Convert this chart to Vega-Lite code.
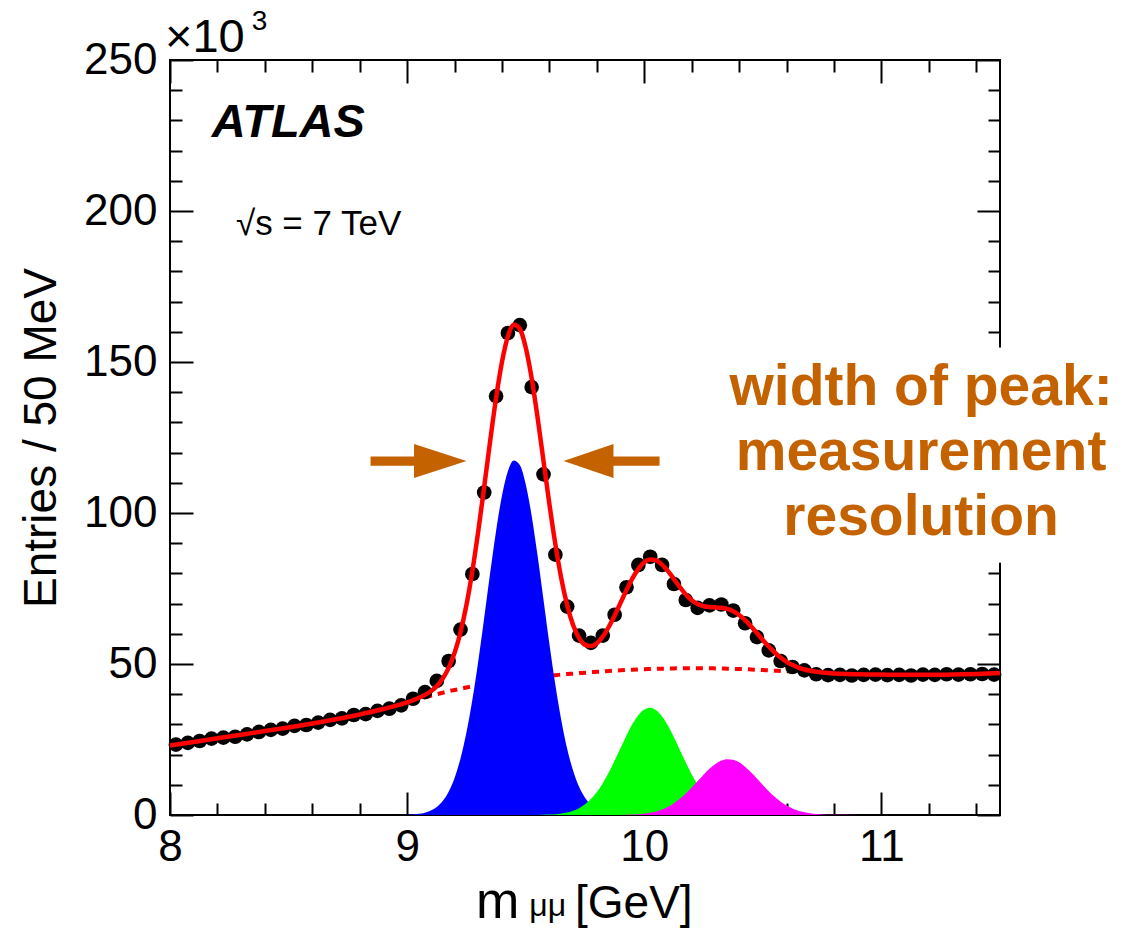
{
  "$schema": "https://vega.github.io/schema/vega-lite/v6.json",
  "width": 830,
  "height": 755,
  "autosize": {"type": "none"},
  "padding": {"left": 170, "top": 60, "right": 123, "bottom": 117},
  "background": "white",
  "config": {
    "font": "Liberation Sans",
    "view": {"stroke": "black", "strokeWidth": 2},
    "axis": {
      "domain": false, "grid": false, "labelFlush": false,
      "labelFont": "Liberation Sans", "labelFontSize": 44, "labelColor": "black",
      "tickColor": "black", "tickWidth": 2, "zindex": 1,
      "titleFont": "Liberation Sans", "titleFontSize": 46, "titleFontWeight": "normal", "titleColor": "black"
    }
  },
  "datasets": {
    "curves": [
      {"x": 8.0, "bg": 23.0, "b1": 0, "b2": 0, "b3": 0, "fit": 23.0},
      {"x": 8.1, "bg": 24.2, "b1": 0, "b2": 0, "b3": 0, "fit": 24.2},
      {"x": 8.2, "bg": 25.4, "b1": 0, "b2": 0, "b3": 0, "fit": 25.4},
      {"x": 8.3, "bg": 26.6, "b1": 0, "b2": 0, "b3": 0, "fit": 26.6},
      {"x": 8.4, "bg": 27.8, "b1": 0, "b2": 0, "b3": 0, "fit": 27.8},
      {"x": 8.5, "bg": 29.0, "b1": 0, "b2": 0, "b3": 0, "fit": 29.0},
      {"x": 8.6, "bg": 30.3, "b1": 0, "b2": 0, "b3": 0, "fit": 30.3},
      {"x": 8.7, "bg": 31.7, "b1": 0, "b2": 0, "b3": 0, "fit": 31.7},
      {"x": 8.8, "bg": 33.3, "b1": 0, "b2": 0, "b3": 0, "fit": 33.3},
      {"x": 8.9, "bg": 35.1, "b1": 0, "b2": 0, "b3": 0, "fit": 35.1},
      {"x": 9.0, "bg": 37.2, "b1": 0.09, "b2": 0, "b3": 0, "fit": 37.29},
      {"x": 9.025, "bg": 37.8, "b1": 0.19, "b2": 0, "b3": 0, "fit": 37.99},
      {"x": 9.05, "bg": 38.4, "b1": 0.4, "b2": 0, "b3": 0, "fit": 38.8},
      {"x": 9.075, "bg": 39.0, "b1": 0.78, "b2": 0, "b3": 0, "fit": 39.78},
      {"x": 9.1, "bg": 39.5, "b1": 1.48, "b2": 0, "b3": 0, "fit": 40.98},
      {"x": 9.125, "bg": 40.0, "b1": 2.68, "b2": 0, "b3": 0, "fit": 42.68},
      {"x": 9.15, "bg": 40.5, "b1": 4.65, "b2": 0, "b3": 0, "fit": 45.15},
      {"x": 9.175, "bg": 41.0, "b1": 7.72, "b2": 0, "b3": 0, "fit": 48.72},
      {"x": 9.2, "bg": 41.4, "b1": 12.29, "b2": 0, "b3": 0, "fit": 53.69},
      {"x": 9.225, "bg": 41.8, "b1": 18.72, "b2": 0, "b3": 0, "fit": 60.52},
      {"x": 9.25, "bg": 42.2, "b1": 27.32, "b2": 0, "b3": 0, "fit": 69.52},
      {"x": 9.275, "bg": 42.6, "b1": 38.15, "b2": 0, "b3": 0, "fit": 80.75},
      {"x": 9.3, "bg": 43.0, "b1": 51.03, "b2": 0, "b3": 0, "fit": 94.03},
      {"x": 9.325, "bg": 43.4, "b1": 65.34, "b2": 0, "b3": 0, "fit": 108.74},
      {"x": 9.35, "bg": 43.7, "b1": 80.11, "b2": 0, "b3": 0, "fit": 123.81},
      {"x": 9.375, "bg": 44.0, "b1": 94.08, "b2": 0, "b3": 0, "fit": 138.08},
      {"x": 9.4, "bg": 44.3, "b1": 105.79, "b2": 0, "b3": 0, "fit": 150.09},
      {"x": 9.425, "bg": 44.6, "b1": 113.88, "b2": 0, "b3": 0, "fit": 158.48},
      {"x": 9.45, "bg": 44.9, "b1": 117.4, "b2": 0, "b3": 0, "fit": 162.3},
      {"x": 9.475, "bg": 45.1, "b1": 115.88, "b2": 0, "b3": 0, "fit": 160.98},
      {"x": 9.5, "bg": 45.3, "b1": 109.52, "b2": 0, "b3": 0, "fit": 154.82},
      {"x": 9.525, "bg": 45.5, "b1": 99.13, "b2": 0, "b3": 0, "fit": 144.63},
      {"x": 9.55, "bg": 45.7, "b1": 85.89, "b2": 0.03, "b3": 0, "fit": 131.62},
      {"x": 9.575, "bg": 45.9, "b1": 71.27, "b2": 0.07, "b3": 0, "fit": 117.24},
      {"x": 9.6, "bg": 46.1, "b1": 56.62, "b2": 0.14, "b3": 0, "fit": 102.86},
      {"x": 9.625, "bg": 46.3, "b1": 43.09, "b2": 0.26, "b3": 0, "fit": 89.65},
      {"x": 9.65, "bg": 46.5, "b1": 31.38, "b2": 0.48, "b3": 0, "fit": 78.36},
      {"x": 9.675, "bg": 46.7, "b1": 21.88, "b2": 0.83, "b3": 0, "fit": 69.41},
      {"x": 9.7, "bg": 46.8, "b1": 14.62, "b2": 1.4, "b3": 0, "fit": 62.82},
      {"x": 9.725, "bg": 47.0, "b1": 9.35, "b2": 2.26, "b3": 0, "fit": 58.61},
      {"x": 9.75, "bg": 47.1, "b1": 5.73, "b2": 3.52, "b3": 0, "fit": 56.35},
      {"x": 9.775, "bg": 47.3, "b1": 3.36, "b2": 5.27, "b3": 0, "fit": 55.93},
      {"x": 9.8, "bg": 47.4, "b1": 1.88, "b2": 7.6, "b3": 0, "fit": 56.88},
      {"x": 9.825, "bg": 47.5, "b1": 1.01, "b2": 10.53, "b3": 0, "fit": 59.04},
      {"x": 9.85, "bg": 47.7, "b1": 0.52, "b2": 14.04, "b3": 0, "fit": 62.26},
      {"x": 9.875, "bg": 47.8, "b1": 0.26, "b2": 18.01, "b3": 0.02, "fit": 66.09},
      {"x": 9.9, "bg": 47.9, "b1": 0.12, "b2": 22.21, "b3": 0.04, "fit": 70.27},
      {"x": 9.925, "bg": 48.0, "b1": 0.05, "b2": 26.35, "b3": 0.07, "fit": 74.47},
      {"x": 9.95, "bg": 48.1, "b1": 0.02, "b2": 30.1, "b3": 0.14, "fit": 78.36},
      {"x": 9.975, "bg": 48.2, "b1": 0.01, "b2": 33.05, "b3": 0.26, "fit": 81.52},
      {"x": 10.0, "bg": 48.3, "b1": 0, "b2": 34.92, "b3": 0.44, "fit": 83.66},
      {"x": 10.025, "bg": 48.35, "b1": 0, "b2": 35.5, "b3": 0.74, "fit": 84.59},
      {"x": 10.05, "bg": 48.4, "b1": 0, "b2": 34.71, "b3": 1.18, "fit": 84.29},
      {"x": 10.075, "bg": 48.45, "b1": 0, "b2": 32.65, "b3": 1.82, "fit": 82.92},
      {"x": 10.1, "bg": 48.5, "b1": 0, "b2": 29.54, "b3": 2.7, "fit": 80.74},
      {"x": 10.125, "bg": 48.55, "b1": 0, "b2": 25.71, "b3": 3.87, "fit": 78.13},
      {"x": 10.15, "bg": 48.6, "b1": 0, "b2": 21.53, "b3": 5.34, "fit": 75.47},
      {"x": 10.175, "bg": 48.6, "b1": 0, "b2": 17.35, "b3": 7.09, "fit": 73.04},
      {"x": 10.2, "bg": 48.6, "b1": 0, "b2": 13.44, "b3": 9.09, "fit": 71.13},
      {"x": 10.225, "bg": 48.6, "b1": 0, "b2": 10.02, "b3": 11.22, "fit": 69.84},
      {"x": 10.25, "bg": 48.6, "b1": 0, "b2": 7.19, "b3": 13.35, "fit": 69.14},
      {"x": 10.275, "bg": 48.6, "b1": 0, "b2": 4.96, "b3": 15.31, "fit": 68.87},
      {"x": 10.3, "bg": 48.55, "b1": 0, "b2": 3.29, "b3": 16.92, "fit": 68.76},
      {"x": 10.325, "bg": 48.5, "b1": 0, "b2": 2.1, "b3": 18.01, "fit": 68.61},
      {"x": 10.35, "bg": 48.45, "b1": 0, "b2": 1.29, "b3": 18.49, "fit": 68.23},
      {"x": 10.375, "bg": 48.4, "b1": 0, "b2": 0.76, "b3": 18.28, "fit": 67.44},
      {"x": 10.4, "bg": 48.35, "b1": 0, "b2": 0.43, "b3": 17.43, "fit": 66.21},
      {"x": 10.425, "bg": 48.3, "b1": 0, "b2": 0.23, "b3": 16.0, "fit": 64.53},
      {"x": 10.45, "bg": 48.2, "b1": 0, "b2": 0.12, "b3": 14.17, "fit": 62.49},
      {"x": 10.475, "bg": 48.1, "b1": 0, "b2": 0.06, "b3": 12.08, "fit": 60.24},
      {"x": 10.5, "bg": 48.0, "b1": 0, "b2": 0.03, "b3": 9.93, "fit": 57.96},
      {"x": 10.525, "bg": 47.9, "b1": 0, "b2": 0, "b3": 7.87, "fit": 55.77},
      {"x": 10.55, "bg": 47.8, "b1": 0, "b2": 0, "b3": 6.01, "fit": 53.81},
      {"x": 10.575, "bg": 47.7, "b1": 0, "b2": 0, "b3": 4.42, "fit": 52.12},
      {"x": 10.6, "bg": 47.6, "b1": 0, "b2": 0, "b3": 3.13, "fit": 50.73},
      {"x": 10.625, "bg": 47.5, "b1": 0, "b2": 0, "b3": 2.14, "fit": 49.64},
      {"x": 10.65, "bg": 47.4, "b1": 0, "b2": 0, "b3": 1.41, "fit": 48.81},
      {"x": 10.675, "bg": 47.3, "b1": 0, "b2": 0, "b3": 0.89, "fit": 48.19},
      {"x": 10.7, "bg": 47.2, "b1": 0, "b2": 0, "b3": 0.55, "fit": 47.75},
      {"x": 10.725, "bg": 47.1, "b1": 0, "b2": 0, "b3": 0.32, "fit": 47.42},
      {"x": 10.75, "bg": 47.0, "b1": 0, "b2": 0, "b3": 0.18, "fit": 47.18},
      {"x": 10.775, "bg": 46.9, "b1": 0, "b2": 0, "b3": 0.1, "fit": 47.0},
      {"x": 10.8, "bg": 46.8, "b1": 0, "b2": 0, "b3": 0.05, "fit": 46.85},
      {"x": 10.9, "bg": 46.6, "b1": 0, "b2": 0, "b3": 0, "fit": 46.6},
      {"x": 11.0, "bg": 46.5, "b1": 0, "b2": 0, "b3": 0, "fit": 46.5},
      {"x": 11.1, "bg": 46.4, "b1": 0, "b2": 0, "b3": 0, "fit": 46.4},
      {"x": 11.2, "bg": 46.4, "b1": 0, "b2": 0, "b3": 0, "fit": 46.4},
      {"x": 11.3, "bg": 46.5, "b1": 0, "b2": 0, "b3": 0, "fit": 46.5},
      {"x": 11.4, "bg": 46.7, "b1": 0, "b2": 0, "b3": 0, "fit": 46.7},
      {"x": 11.5, "bg": 47.0, "b1": 0, "b2": 0, "b3": 0, "fit": 47.0}
    ],
    "points": [
      {"x": 8.025, "y": 23.3}, {"x": 8.075, "y": 23.9}, {"x": 8.125, "y": 24.5}, {"x": 8.175, "y": 25.3},
      {"x": 8.225, "y": 25.6}, {"x": 8.275, "y": 25.9}, {"x": 8.325, "y": 26.7}, {"x": 8.375, "y": 27.5},
      {"x": 8.425, "y": 28.2}, {"x": 8.475, "y": 28.6}, {"x": 8.525, "y": 29.5}, {"x": 8.575, "y": 29.8},
      {"x": 8.625, "y": 30.6}, {"x": 8.675, "y": 31.5}, {"x": 8.725, "y": 32.0}, {"x": 8.775, "y": 33.1},
      {"x": 8.825, "y": 33.4}, {"x": 8.875, "y": 34.5}, {"x": 8.925, "y": 35.2}, {"x": 8.975, "y": 36.3},
      {"x": 9.025, "y": 38.5}, {"x": 9.075, "y": 40.7}, {"x": 9.125, "y": 44.4}, {"x": 9.175, "y": 51.0},
      {"x": 9.225, "y": 61.4}, {"x": 9.275, "y": 79.8}, {"x": 9.325, "y": 106.8}, {"x": 9.375, "y": 138.7},
      {"x": 9.425, "y": 159.6}, {"x": 9.475, "y": 162.2}, {"x": 9.525, "y": 141.7}, {"x": 9.575, "y": 112.8},
      {"x": 9.625, "y": 86.2}, {"x": 9.675, "y": 69.0}, {"x": 9.725, "y": 59.4}, {"x": 9.775, "y": 57.0},
      {"x": 9.825, "y": 59.4}, {"x": 9.875, "y": 66.3}, {"x": 9.925, "y": 75.4}, {"x": 9.975, "y": 82.8},
      {"x": 10.025, "y": 85.5}, {"x": 10.075, "y": 82.8}, {"x": 10.125, "y": 76.5}, {"x": 10.175, "y": 71.2},
      {"x": 10.225, "y": 68.6}, {"x": 10.275, "y": 69.4}, {"x": 10.325, "y": 69.7}, {"x": 10.375, "y": 67.7},
      {"x": 10.425, "y": 63.5}, {"x": 10.475, "y": 58.9}, {"x": 10.525, "y": 54.5}, {"x": 10.575, "y": 51.0},
      {"x": 10.625, "y": 49.0}, {"x": 10.675, "y": 47.9}, {"x": 10.725, "y": 46.6}, {"x": 10.775, "y": 46.3},
      {"x": 10.825, "y": 46.4}, {"x": 10.875, "y": 46.2}, {"x": 10.925, "y": 46.4}, {"x": 10.975, "y": 46.5},
      {"x": 11.025, "y": 46.3}, {"x": 11.075, "y": 46.4}, {"x": 11.125, "y": 46.2}, {"x": 11.175, "y": 46.5},
      {"x": 11.225, "y": 46.4}, {"x": 11.275, "y": 46.6}, {"x": 11.325, "y": 46.5}, {"x": 11.375, "y": 46.6},
      {"x": 11.425, "y": 46.7}, {"x": 11.475, "y": 46.5}
    ]
  },
  "resolve": {"axis": {"x": "independent", "y": "independent"}},
  "layer": [
    {
      "data": {"name": "curves"},
      "mark": {"type": "line", "color": "#ff0000", "strokeWidth": 4, "strokeDash": [7, 6], "interpolate": "monotone"},
      "encoding": {
        "x": {"field": "x", "type": "quantitative", "scale": {"domain": [8, 11.5], "nice": false, "zero": false},
              "axis": {"orient": "bottom", "values": [8, 9, 10, 11], "tickSize": -23, "labelPadding": 33, "title": null}},
        "y": {"field": "bg", "type": "quantitative", "scale": {"domain": [0, 250], "nice": false},
              "axis": {"orient": "left", "values": [0, 50, 100, 150, 200, 250], "tickSize": -23, "labelPadding": 36, "title": "Entries / 50 MeV", "titlePadding": 18}}
      }
    },
    {
      "data": {"name": "curves"},
      "mark": {"type": "area", "color": "#0000ff", "opacity": 1, "interpolate": "monotone"},
      "encoding": {
        "x": {"field": "x", "type": "quantitative",
              "axis": {"orient": "bottom", "values": [8.2, 8.4, 8.6, 8.8, 9.2, 9.4, 9.6, 9.8, 10.2, 10.4, 10.6, 10.8, 11.2, 11.4], "tickSize": -12, "labels": false, "title": null}},
        "y": {"field": "b1", "type": "quantitative",
              "axis": {"orient": "left", "values": [10, 20, 30, 40, 60, 70, 80, 90, 110, 120, 130, 140, 160, 170, 180, 190, 210, 220, 230, 240], "tickSize": -12, "labels": false, "title": null}}
      }
    },
    {
      "data": {"name": "curves"},
      "mark": {"type": "area", "color": "#00ff00", "opacity": 1, "interpolate": "monotone"},
      "encoding": {
        "x": {"field": "x", "type": "quantitative",
              "axis": {"orient": "top", "values": [8, 9, 10, 11], "tickSize": -23, "labels": false, "title": null}},
        "y": {"field": "b2", "type": "quantitative",
              "axis": {"orient": "right", "values": [0, 50, 200, 250], "tickSize": -23, "labels": false, "title": null}}
      }
    },
    {
      "data": {"name": "curves"},
      "mark": {"type": "area", "color": "#ff00ff", "opacity": 1, "interpolate": "monotone"},
      "encoding": {
        "x": {"field": "x", "type": "quantitative",
              "axis": {"orient": "top", "values": [8.2, 8.4, 8.6, 8.8, 9.2, 9.4, 9.6, 9.8, 10.2, 10.4, 10.6, 10.8, 11.2, 11.4], "tickSize": -12, "labels": false, "title": null}},
        "y": {"field": "b3", "type": "quantitative",
              "axis": {"orient": "right", "values": [10, 20, 30, 40, 60, 70, 80, 160, 170, 180, 190, 210, 220, 230, 240], "tickSize": -12, "labels": false, "title": null}}
      }
    },
    {
      "data": {"name": "points"},
      "mark": {"type": "circle", "color": "black", "opacity": 1, "size": 215},
      "encoding": {
        "x": {"field": "x", "type": "quantitative", "axis": null},
        "y": {"field": "y", "type": "quantitative", "axis": null}
      }
    },
    {
      "data": {"name": "curves"},
      "mark": {"type": "line", "color": "#ff0000", "strokeWidth": 4.5, "interpolate": "monotone"},
      "encoding": {
        "x": {"field": "x", "type": "quantitative", "axis": null},
        "y": {"field": "fit", "type": "quantitative", "axis": null}
      }
    },
    {
      "data": {"values": [{}]},
      "mark": {"type": "rect", "fill": "white", "stroke": null},
      "encoding": {
        "x": {"datum": 10.35, "type": "quantitative", "axis": null},
        "x2": {"datum": 12.0},
        "y": {"datum": 83.5, "type": "quantitative", "axis": null},
        "y2": {"datum": 154.8}
      }
    },
    {
      "data": {"values": [{}]},
      "mark": {"type": "point", "filled": true, "color": "#c46200", "opacity": 1, "size": 9216, "strokeWidth": 0,
               "shape": "M-1,-0.096L-0.094,-0.096L-0.094,-0.354L1,0L-0.094,0.354L-0.094,0.096L-1,0.096Z"},
      "encoding": {
        "x": {"datum": 9.048, "type": "quantitative", "axis": null},
        "y": {"datum": 117.2, "type": "quantitative", "axis": null}
      }
    },
    {
      "data": {"values": [{}]},
      "mark": {"type": "point", "filled": true, "color": "#c46200", "opacity": 1, "size": 9216, "strokeWidth": 0,
               "shape": "M1,-0.096L0.04,-0.096L0.04,-0.354L-1,0L0.04,0.354L0.04,0.096L1,0.096Z"},
      "encoding": {
        "x": {"datum": 9.862, "type": "quantitative", "axis": null},
        "y": {"datum": 117.2, "type": "quantitative", "axis": null}
      }
    },
    {
      "data": {"values": [{}]},
      "mark": {"type": "text", "text": ["width of peak:", "measurement", "resolution"], "font": "Liberation Sans", "fontWeight": "bold",
               "fontSize": 57, "lineHeight": 65, "color": "#c46200", "align": "center", "baseline": "alphabetic"},
      "encoding": {
        "x": {"datum": 11.167, "type": "quantitative", "axis": null},
        "y": {"datum": 135.8, "type": "quantitative", "axis": null}
      }
    },
    {
      "data": {"values": [{}]},
      "mark": {"type": "text", "text": "ATLAS", "font": "Liberation Sans", "fontWeight": "bold", "fontStyle": "italic",
               "fontSize": 47, "color": "black", "align": "left", "baseline": "alphabetic"},
      "encoding": {
        "x": {"datum": 8.176, "type": "quantitative", "axis": null},
        "y": {"datum": 224.5, "type": "quantitative", "axis": null}
      }
    },
    {
      "data": {"values": [{}]},
      "mark": {"type": "text", "text": "√s = 7 TeV", "font": "Liberation Sans", "fontSize": 35, "color": "black", "align": "left", "baseline": "alphabetic"},
      "encoding": {
        "x": {"datum": 8.278, "type": "quantitative", "axis": null},
        "y": {"datum": 192.1, "type": "quantitative", "axis": null}
      }
    },
    {
      "data": {"values": [{}]},
      "mark": {"type": "text", "text": "×10", "font": "Liberation Sans", "fontSize": 47, "color": "black", "align": "left", "baseline": "alphabetic"},
      "encoding": {
        "x": {"datum": 7.979, "type": "quantitative", "axis": null},
        "y": {"datum": 252.7, "type": "quantitative", "axis": null}
      }
    },
    {
      "data": {"values": [{}]},
      "mark": {"type": "text", "text": "3", "font": "Liberation Sans", "fontSize": 28, "color": "black", "align": "left", "baseline": "alphabetic"},
      "encoding": {
        "x": {"datum": 8.345, "type": "quantitative", "axis": null},
        "y": {"datum": 259.8, "type": "quantitative", "axis": null}
      }
    },
    {
      "data": {"values": [{}]},
      "mark": {"type": "text", "text": "m", "font": "Liberation Sans", "fontSize": 52, "color": "black", "align": "left", "baseline": "alphabetic"},
      "encoding": {
        "x": {"datum": 9.29, "type": "quantitative", "axis": null},
        "y": {"datum": -34.1, "type": "quantitative", "axis": null}
      }
    },
    {
      "data": {"values": [{}]},
      "mark": {"type": "text", "text": "μμ", "font": "Liberation Sans", "fontSize": 32, "color": "black", "align": "left", "baseline": "alphabetic"},
      "encoding": {
        "x": {"datum": 9.515, "type": "quantitative", "axis": null},
        "y": {"datum": -33.4, "type": "quantitative", "axis": null}
      }
    },
    {
      "data": {"values": [{}]},
      "mark": {"type": "text", "text": "[GeV]", "font": "Liberation Sans", "fontSize": 46, "color": "black", "align": "left", "baseline": "alphabetic"},
      "encoding": {
        "x": {"datum": 9.708, "type": "quantitative", "axis": null},
        "y": {"datum": -34.1, "type": "quantitative", "axis": null}
      }
    }
  ]
}
